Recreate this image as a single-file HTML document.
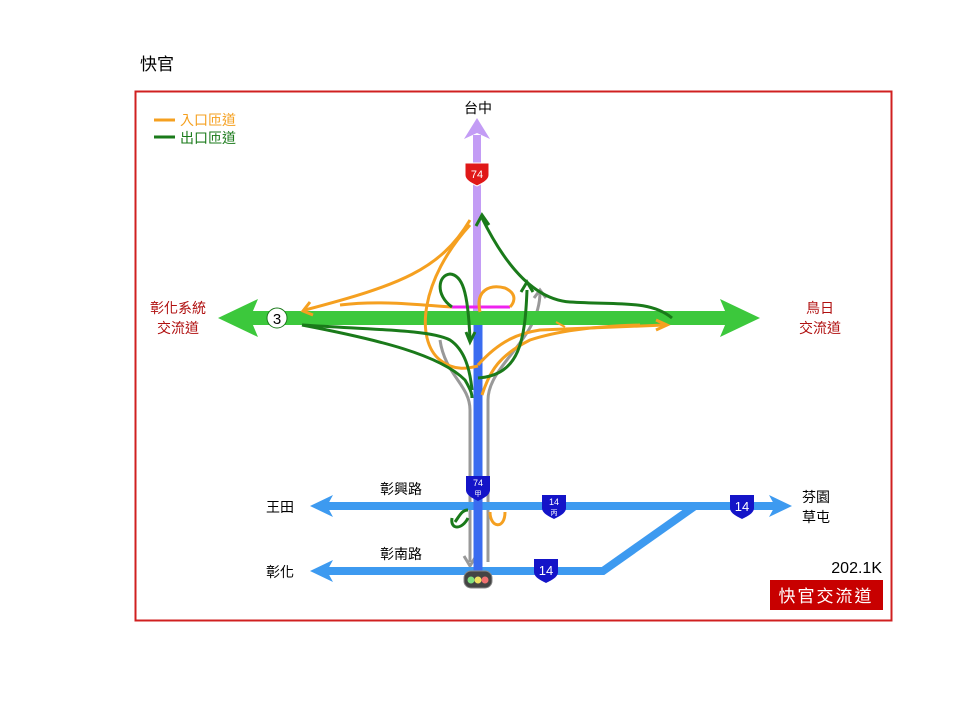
<!DOCTYPE html>
<html><head><meta charset="utf-8"><style>
body{margin:0;background:#fff;}
svg{display:block;}
text{font-family:"Liberation Sans","Noto Sans CJK TC",sans-serif;}
</style></head><body>
<svg width="960" height="720" viewBox="0 0 960 720" xmlns="http://www.w3.org/2000/svg">
<text x="140" y="70" font-size="17" fill="#000">快官</text>
<rect x="135.5" y="91.5" width="756" height="529" fill="none" stroke="#d02020" stroke-width="2"/>
<!-- legend -->
<line x1="154" y1="120" x2="175" y2="120" stroke="#f5a020" stroke-width="3"/>
<text x="180" y="125" font-size="14" fill="#f5a020">入口匝道</text>
<line x1="154" y1="137" x2="175" y2="137" stroke="#1a7a1a" stroke-width="3"/>
<text x="180" y="143" font-size="14" fill="#1a7a1a">出口匝道</text>

<!-- gray lines -->
<g fill="none" stroke="#999" stroke-width="3">
<path d="M440 340 C445 375 470 385 470 410 L470 562"/>
<path d="M540 292 C540 340 488 365 488 400 L488 562"/>
</g>
<path d="M464 556 L470 566 L476 556" fill="none" stroke="#999" stroke-width="3"/>
<path d="M534 298 L540 290 L546 298" fill="none" stroke="#999" stroke-width="3"/>

<!-- blue roads -->
<g stroke="#3d9af0" stroke-width="8" fill="none">
<line x1="325" y1="506" x2="780" y2="506"/>
<polyline points="325,571 603,571 695,506"/>
</g>
<polygon points="310,506 333,495 327,506 333,517" fill="#3d9af0"/>
<polygon points="310,571 333,560 327,571 333,582" fill="#3d9af0"/>
<polygon points="792,506 769,495 775,506 769,517" fill="#3d9af0"/>

<!-- vertical -->
<line x1="477" y1="135" x2="477" y2="322" stroke="#c39cf5" stroke-width="8"/>
<polygon points="477,118 464,139 477,133 490,139" fill="#c39cf5"/>
<line x1="478" y1="324" x2="478" y2="572" stroke="#3a6cf0" stroke-width="9"/>

<!-- green highway -->
<line x1="250" y1="318" x2="728" y2="318" stroke="#3cc83c" stroke-width="14"/>
<polygon points="218,318 258,299 250,318 258,337" fill="#3cc83c"/>
<polygon points="760,318 720,299 728,318 720,337" fill="#3cc83c"/>
<line x1="452" y1="307" x2="510" y2="307" stroke="#ee22ee" stroke-width="3"/>

<!-- orange ramps -->
<g fill="none" stroke="#f5a020" stroke-width="3">
<path d="M470 220 C440 270 400 285 305 310"/>
<path d="M452 307 C420 305 380 300 340 305"/>
<path d="M470 225 C420 280 415 340 440 360 C455 372 470 368 478 366"/>
<path d="M480 312 C475 290 490 284 505 288 C520 295 512 305 510 307"/>
<path d="M478 365 C500 340 520 333 540 330 L665 325"/>
<path d="M482 395 C490 370 500 355 530 340 C560 330 600 326 640 325"/>
<path d="M490 512 C490 528 505 530 505 512"/>
</g>
<path d="M310 302 L303 311 L313 315" fill="none" stroke="#f5a020" stroke-width="3"/>
<path d="M656 320 L667 325 L656 330" fill="none" stroke="#f5a020" stroke-width="3"/>
<path d="M565 327 L556 322" fill="none" stroke="#f5a020" stroke-width="2"/>

<!-- green ramps -->
<g fill="none" stroke="#1a7a1a" stroke-width="3">
<path d="M302 325 C380 330 430 330 450 340 C465 350 470 370 472 390"/>
<path d="M302 325 C380 340 440 355 465 380 C472 392 472 395 472 398"/>
<path d="M452 307 C435 295 438 275 450 274 C462 275 468 290 470 340"/>
<path d="M482 218 C510 275 540 300 570 302 C620 305 650 300 672 318"/>
<path d="M478 378 C520 375 525 340 527 290"/>
<path d="M452 518 C450 530 462 530 468 518 M455 522 C460 515 462 510 468 510"/>
</g>
<path d="M476 226 L482 215 L489 225" fill="none" stroke="#1a7a1a" stroke-width="3"/>
<path d="M521 292 L527 282 L533 292" fill="none" stroke="#1a7a1a" stroke-width="3"/>
<path d="M466 332 L470 342 L475 332" fill="none" stroke="#1a7a1a" stroke-width="3"/>

<!-- shields -->
<path d="M465 163 L489 163 L489 175 C489 180 483 183 477 186 C471 183 465 180 465 175 Z" fill="#e01818" stroke="#fff" stroke-width="1"/>
<text x="477" y="178" font-size="11" fill="#fff" text-anchor="middle">74</text>
<g transform="translate(277,318)">
<circle r="10" fill="#fff" stroke="#1a7a1a" stroke-width="1"/>
<text y="6" font-size="15" fill="#000" text-anchor="middle">3</text>
</g>
<path d="M466 476 L490 476 L490 490 C490 495 484 498 478 501 C472 498 466 495 466 490 Z" fill="#1414c8"/>
<text x="478" y="486" font-size="9" fill="#fff" text-anchor="middle">74</text>
<text x="478" y="496" font-size="7" fill="#fff" text-anchor="middle">甲</text>
<path d="M542 495 L566 495 L566 508 C566 513 560 516 554 519 C548 516 542 513 542 508 Z" fill="#1414c8"/>
<text x="554" y="505" font-size="9" fill="#fff" text-anchor="middle">14</text>
<text x="554" y="515" font-size="7" fill="#fff" text-anchor="middle">丙</text>
<path d="M730 495 L754 495 L754 508 C754 513 748 516 742 519 C736 516 730 513 730 508 Z" fill="#1414c8"/>
<text x="742" y="511" font-size="13" fill="#fff" text-anchor="middle">14</text>
<path d="M534 559 L558 559 L558 572 C558 577 552 580 546 583 C540 580 534 577 534 572 Z" fill="#1414c8"/>
<text x="546" y="575" font-size="13" fill="#fff" text-anchor="middle">14</text>

<!-- traffic light -->
<rect x="464" y="571" width="28" height="17" rx="7" fill="#444" stroke="#888" stroke-width="1"/>
<circle cx="471" cy="580" r="3.5" fill="#7fe07f"/>
<circle cx="478" cy="580" r="3.5" fill="#f0e060"/>
<circle cx="485" cy="580" r="3.5" fill="#f07070"/>

<!-- labels -->
<text x="478" y="113" font-size="14" text-anchor="middle">台中</text>
<text x="178" y="313" font-size="14" fill="#b01010" text-anchor="middle">彰化系統</text>
<text x="178" y="333" font-size="14" fill="#b01010" text-anchor="middle">交流道</text>
<text x="820" y="313" font-size="14" fill="#b01010" text-anchor="middle">鳥日</text>
<text x="820" y="333" font-size="14" fill="#b01010" text-anchor="middle">交流道</text>
<text x="401" y="494" font-size="14" text-anchor="middle">彰興路</text>
<text x="401" y="559" font-size="14" text-anchor="middle">彰南路</text>
<text x="280" y="512" font-size="14" text-anchor="middle">王田</text>
<text x="280" y="577" font-size="14" text-anchor="middle">彰化</text>
<text x="802" y="502" font-size="14">芬園</text>
<text x="802" y="522" font-size="14">草屯</text>
<text x="882" y="573" font-size="16" text-anchor="end">202.1K</text>
<rect x="770" y="580" width="113" height="30" fill="#c80000"/>
<text x="826" y="602" font-size="17" fill="#fff" text-anchor="middle" letter-spacing="2">快官交流道</text>
</svg>
</body></html>
